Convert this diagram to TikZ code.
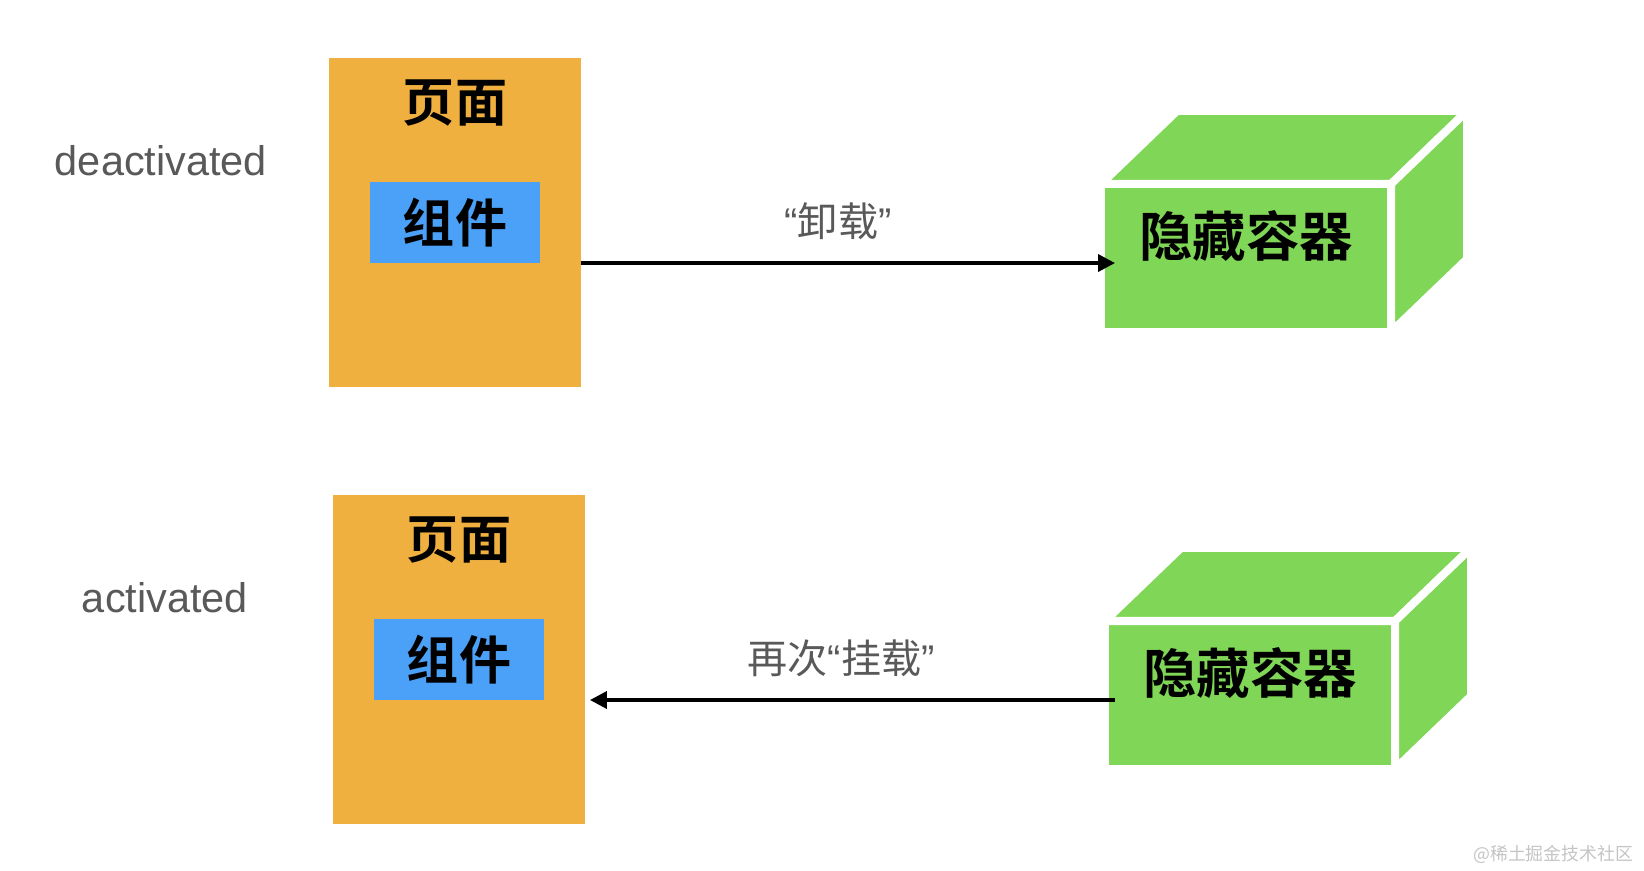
\documentclass[tikz,border=0pt]{standalone}
\usepackage{fontspec}
\setmainfont{Liberation Sans}
\newfontfamily\cjk{Noto Sans CJK SC}
\newfontfamily\cjkbf{Noto Sans CJK SC Bold}
\usepackage{tikz}
\usetikzlibrary{arrows.meta}
\definecolor{pg}{RGB}{240,176,64}
\definecolor{cp}{RGB}{74,161,247}
\definecolor{bx}{RGB}{128,214,86}
\definecolor{tx}{RGB}{89,89,89}
\definecolor{wm}{RGB}{196,196,196}
\newcommand\quoted[1]{{\normalfont “}#1{\normalfont ”}}

\begin{document}
\begin{tikzpicture}[x=0.025cm, y=-0.025cm,
page/.style={fill=pg, inner sep=0, outer sep=0, minimum width=6.3cm, minimum height=8.225cm},
comp/.style={fill=cp, inner sep=0, outer sep=0, minimum width=4.25cm, minimum height=2.025cm, font=\cjkbf\fontsize{37}{44}\selectfont},
cube/.style={fill=bx, draw=white, line width=5.7pt, line join=round, inner sep=0, outer sep=0, minimum width=7.25cm, minimum height=3.7cm},
lbl/.style={text=tx, font=\cjk\fontsize{28.5}{34}\selectfont},
arr/.style={line width=2.6pt, -{Triangle[length=12pt, width=12pt]}}]
\useasboundingbox (0,0) rectangle (1644,870);
\foreach \n/\dx/\dy/\state in {1/0/0/deactivated, 2/4/437/activated}{
\node[page] (page\n) at (455+\dx,222.5+\dy) {};
\node[font=\cjkbf\fontsize{37}{44}\selectfont] (title\n) at ([yshift=-1.125cm]page\n.north) {页面};
\node[comp] (comp\n) at (page\n.center) {组件};
\node[cube] (hide\n) at (1246+\dx,258+\dy) {};
\filldraw[bx, draw=white, line width=5.7pt, line join=round] (hide\n.north west) -- ++(76,-73) -- ++(290,0) -- (hide\n.north east) -- cycle;
\filldraw[bx, draw=white, line width=5.7pt, line join=round] (hide\n.north east) -- ++(76,-73) -- ++(0,148) -- (hide\n.south east) -- cycle;
\node[font=\cjkbf\fontsize{38}{46}\selectfont] (htext\n) at ([yshift=0.55cm]hide\n.center) {隐藏容器};
\node[text=tx, font=\fontsize{29.5}{35}\selectfont] (state\n) at (161+\dx,161+\dy) {\state};
}
\draw[arr, shorten >=-10pt] (page1.east |- comp1.south) -- (hide1.west |- comp1.south)
  node[lbl, midway, yshift=1.05cm, xshift=-0.075cm] (unload) {\quoted{卸载}};
\draw[arr, shorten <=-7pt, shorten >=3.5pt] (hide2.west |- comp2.south) -- (page2.east |- comp2.south)
  node[lbl, midway, yshift=1.05cm, xshift=-0.1cm] (mount) {再次\quoted{挂载}};
\node[text=wm, anchor=east, font=\cjk\fontsize{12.7}{15}\selectfont] (mark) at (1638,854) {@稀土掘金技术社区};
\end{tikzpicture}
\end{document}
